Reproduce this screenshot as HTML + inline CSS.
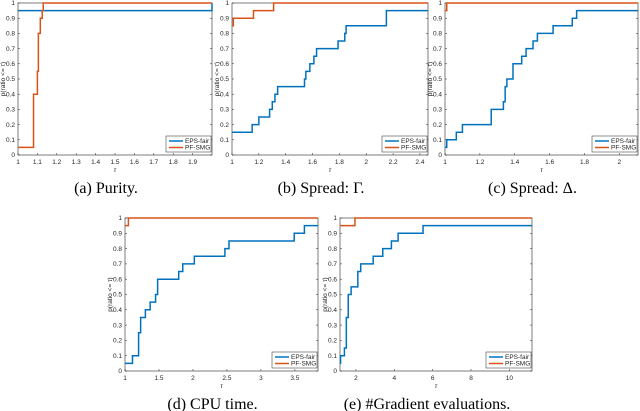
<!DOCTYPE html>
<html><head><meta charset="utf-8"><style>
body{margin:0;background:#fff}
svg{display:block}
.tk{font-family:"Liberation Sans",sans-serif;font-size:6.5px;fill:#262626}
.cap{font-family:"Liberation Serif",serif;font-size:16px;fill:#000}
</style></head><body>
<svg id="c" width="640" height="411" viewBox="0 0 640 411"></svg>
<script>
// Panel (a) Purity
const aPfX=[1,1.08,1.1,1.105,1.115,1.125,1.13];
const aPfY=[0.05,0.4,0.55,0.8,0.9,0.95,1];
const aEpsX=[1,2];
const aEpsY=[0.95,1];
// Panel (b) Spread Gamma
const bPfX=[1,1.01,1.16,1.31];
const bPfY=[0.85,0.9,0.95,1];
const bEpsX=[1,1.15,1.2,1.28,1.3,1.32,1.34,1.54,1.55,1.58,1.61,1.63,1.79,1.84,1.85,2.15];
const bEpsY=[0.15,0.2,0.25,0.3,0.35,0.4,0.45,0.5,0.55,0.6,0.65,0.7,0.75,0.8,0.85,0.95];
// Panel (c) Spread Delta
const cPfX=[1,1.01];
const cPfY=[0.95,1];
const cEpsX=[1,1.01,1.065,1.1,1.265,1.335,1.345,1.355,1.39,1.44,1.465,1.505,1.53,1.62,1.73,1.755];
const cEpsY=[0.05,0.1,0.15,0.2,0.3,0.35,0.45,0.5,0.6,0.65,0.7,0.75,0.8,0.85,0.9,0.95];
// Panel (d) CPU time
const dPfX=[1,1.05];
const dPfY=[0.95,1];
const dEpsX=[1,1.11,1.2,1.23,1.3,1.37,1.45,1.48,1.79,1.85,2.02,2.47,2.53,3.49,3.64];
const dEpsY=[0.05,0.1,0.25,0.35,0.4,0.45,0.5,0.6,0.65,0.7,0.75,0.8,0.85,0.9,0.95];
// Panel (e) gradient evaluations
const ePfX=[1.17,1.95];
const ePfY=[0.95,1];
const eEpsX=[1.17,1.2,1.4,1.5,1.6,1.75,2.1,2.25,2.9,3.4,3.85,4.2,5.5];
const eEpsY=[0.05,0.1,0.15,0.35,0.5,0.55,0.65,0.7,0.75,0.8,0.85,0.9,0.95];
// tick labels
const aTicks=[1,1.1,1.2,1.3,1.4,1.5,1.6,1.7,1.8,1.9];
const bTicks=[1,1.2,1.4,1.6,1.8,2,2.2,2.4];
const cTicks=[1,1.2,1.4,1.6,1.8,2];
const dTicks=[1,1.5,2,2.5,3,3.5];
const eTicks=[2,4,6,8,10];
const yTicks=[0,0.1,0.2,0.3,0.4,0.5,0.6,0.7,0.8,0.9,1];

const NS="http://www.w3.org/2000/svg";
const svg=document.getElementById('c');
function mk(t,a,p){const e=document.createElementNS(NS,t);for(const k in a)e.setAttribute(k,a[k]);(p||svg).appendChild(e);return e;}

const panels=[
 {id:'a',L:18,R:212,T:3,B:155,x0:1,x1:2,ticks:aTicks,pfX:aPfX,pfY:aPfY,epsX:aEpsX,epsY:aEpsY,cap:'(a) Purity.'},
 {id:'b',L:232,R:428,T:3,B:155,x0:1,x1:2.46,ticks:bTicks,pfX:bPfX,pfY:bPfY,epsX:bEpsX,epsY:bEpsY,cap:'(b) Spread: Γ.'},
 {id:'c',L:445,R:638,T:3,B:155,x0:1,x1:2.107,ticks:cTicks,pfX:cPfX,pfY:cPfY,epsX:cEpsX,epsY:cEpsY,cap:'(c) Spread: Δ.'},
 {id:'d',L:125,R:318,T:218,B:371,x0:1,x1:3.84,ticks:dTicks,pfX:dPfX,pfY:dPfY,epsX:dEpsX,epsY:dEpsY,cap:'(d) CPU time.'},
 {id:'e',L:340,R:532,T:218,B:371,x0:1.17,x1:11.18,ticks:eTicks,pfX:ePfX,pfY:ePfY,epsX:eEpsX,epsY:eEpsY,cap:'(e) #Gradient evaluations.'}
];

panels.forEach(p=>{
 const g=mk('g',{});
 
 
 const sx=v=>p.L+(v-p.x0)/(p.x1-p.x0)*(p.R-p.L);
 const sy=v=>p.B-v*(p.B-p.T);
 const box=mk('rect',{x:p.L,y:p.T,width:p.R-p.L,height:p.B-p.T,fill:'#fff',stroke:'#262626','stroke-width':0.6},g);
 
 
 yTicks.forEach(v=>{
  mk('line',{x1:p.L,x2:p.L+2,y1:sy(v),y2:sy(v),stroke:'#262626','stroke-width':0.5},g);
  mk('line',{x1:p.R,x2:p.R-2,y1:sy(v),y2:sy(v),stroke:'#262626','stroke-width':0.5},g);
  const t=mk('text',{x:p.L-3,y:sy(v)+2.2,'text-anchor':'end',class:'tk'},g);t.textContent=String(v);
  
  
 });
 p.ticks.forEach(v=>{
  mk('line',{x1:sx(v),x2:sx(v),y1:p.B,y2:p.B-2,stroke:'#262626','stroke-width':0.5},g);
  const t=mk('text',{x:sx(v),y:p.B+9,'text-anchor':'middle',class:'tk'},g);t.textContent=String(v);
  
  
 });
 const yl=mk('text',{x:0,y:0,'text-anchor':'middle',class:'tk',transform:`translate(${p.L-13},${(p.T+p.B)/2}) rotate(-90)`},g);
 yl.textContent='p(ratio <= τ)';
 
 
 const xl=mk('text',{x:(p.L+p.R)/2,y:p.B+17,'text-anchor':'middle',class:'tk','font-style':'italic'},g);
 xl.textContent='τ';
 
 
 function stair(X,Y,col,name){
  let d='';
  for(let i=0;i<X.length;i++){
   const x=sx(X[i]),y=sy(Y[i]);
   if(i===0)d+=`M${x},${y}`;else d+=`H${x}V${y}`;
  }
  d+=`H${sx(p.x1)}`;
  const pa=mk('path',{d:d,fill:'none',stroke:col,'stroke-width':1.5},g);
  
  
 }
 stair(p.epsX,p.epsY,'#0072BD','eps-fair-line');
 stair(p.pfX,p.pfY,'#D95319','pf-smg-line');
 const lg=mk('g',{},g);
 
 
 const lx=p.R-46,ly=p.B-19;
 mk('rect',{x:lx,y:ly,width:45,height:16,fill:'#fff',stroke:'#262626','stroke-width':0.5},lg);
 [['EPS-fair','#0072BD'],['PF-SMG','#D95319']].forEach((e,i)=>{
  const yy=ly+5+i*6.5;
  mk('line',{x1:lx+3,x2:lx+17,y1:yy,y2:yy,stroke:e[1],'stroke-width':1.5},lg);
  const t=mk('text',{x:lx+19,y:yy+2,class:'tk','font-size':'5.5px'},lg);t.textContent=e[0];
  
  
 });
 const cap=mk('text',{x:(p.L+p.R)/2-9,y:p.B+38,'text-anchor':'middle',class:'cap'},g);
 cap.textContent=p.cap;
 
 
});
</script>
</body></html>
